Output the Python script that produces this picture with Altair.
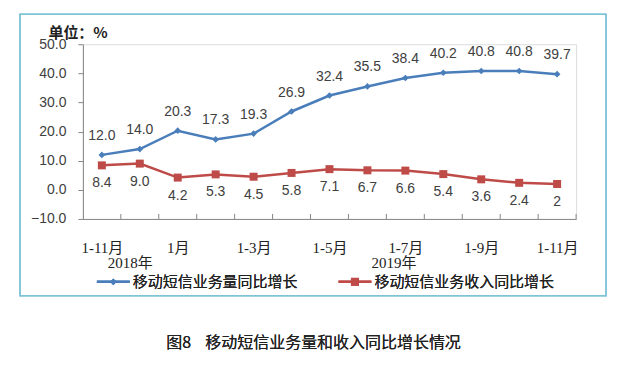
import altair as alt
import pandas as pd

# ---- data ----
tick_labels = ["1-11月", "1-12月", "1月", "1-2月", "1-3月", "1-4月", "1-5月",
               "1-6月", "1-7月", "1-8月", "1-9月", "1-10月", "1-11月"]
shown_idx = [0, 2, 4, 6, 8, 10, 12]
volume_growth = [12.0, 14.0, 20.3, 17.3, 19.3, 26.9, 32.4, 35.5, 38.4, 40.2, 40.8, 40.8, 39.7]
revenue_growth = [8.4, 9.0, 4.2, 5.3, 4.5, 5.8, 7.1, 6.7, 6.6, 5.4, 3.6, 2.4, 2.0]
revenue_labels = ["8.4", "9.0", "4.2", "5.3", "4.5", "5.8", "7.1", "6.7", "6.6", "5.4", "3.6", "2.4", "2"]
series_names = ["移动短信业务量同比增长", "移动短信业务收入同比增长"]
years = ["2018年", "2019年"]
year_pos = [0.75, 7.7]
caption = "图8\u00a0\u00a0\u00a0\u00a0移动短信业务量和收入同比增长情况"
unit_label = "单位：%"

BLUE = "#4A7EBB"
RED = "#BE4B48"
GRAY = "#868686"
TXT = "#404040"
NUM_FONT = "Liberation Sans"
SERIF = "Liberation Serif, Noto Sans CJK SC"
CJK = "Noto Sans CJK SC"

rows = []
for i in range(len(tick_labels)):
    rows.append({"idx": i, "series": series_names[0], "value": volume_growth[i],
                 "label": f"{volume_growth[i]:.1f}"})
    rows.append({"idx": i, "series": series_names[1], "value": revenue_growth[i],
                 "label": revenue_labels[i]})
df = pd.DataFrame(rows)

W, H = 494, 175

label_arr = "[" + ",".join(f"'{t}'" for t in tick_labels) + "]"

x_scale = alt.Scale(domain=[-0.5, len(tick_labels) - 0.5], nice=False, zero=False)
x_axis = alt.Axis(
    values=shown_idx,
    labelExpr=f"{label_arr}[datum.value]",
    ticks=False,
    grid=False,
    title=None,
    domainColor=GRAY,
    labelFont=SERIF,
    labelFontSize=15,
    labelColor="#222222",
    labelPadding=22,
    labelOverlap=False,
)


def xq(field):
    return alt.X(field, type="quantitative", scale=x_scale, axis=x_axis)


y_enc = alt.Y(
    "value:Q",
    scale=alt.Scale(domain=[-10, 50], nice=False, zero=False),
    axis=alt.Axis(
        values=list(range(-10, 51, 10)),
        format=".1f",
        grid=False,
        domainColor=GRAY,
        tickColor=GRAY,
        tickSize=5,
        labelPadding=12,
        labelFont=NUM_FONT,
        labelFontSize=14,
        labelColor=TXT,
        title=unit_label,
        titleAngle=0,
        titleX=-35,
        titleY=-12,
        titleAlign="left",
        titleBaseline="middle",
        titleFont=CJK,
        titleFontSize=15,
        titleFontWeight="bold",
        titleColor="#222222",
    ),
)
color_enc = alt.Color("series:N", scale=alt.Scale(domain=series_names, range=[BLUE, RED]), legend=None)

base = alt.Chart(df)

lines = base.mark_line(strokeWidth=2.5).encode(x=xq("idx"), y=y_enc, color=color_enc)
points = base.mark_point(filled=True, opacity=1).encode(
    x=xq("idx"), y=y_enc, color=color_enc,
    shape=alt.Shape("series:N", scale=alt.Scale(domain=series_names, range=["diamond", "square"]), legend=None),
    size=alt.Size("series:N", scale=alt.Scale(domain=series_names, range=[45, 64]), legend=None),
)
blue_labels = base.transform_filter(alt.datum.series == series_names[0]).mark_text(
    dy=-19, font=NUM_FONT, fontSize=14, color=TXT
).encode(x=xq("idx"), y=y_enc, text="label:N")
red_labels = base.transform_filter(alt.datum.series == series_names[1]).mark_text(
    dy=18, font=NUM_FONT, fontSize=14, color=TXT
).encode(x=xq("idx"), y=y_enc, text="label:N")

x_ticks = base.transform_filter(alt.datum.series == series_names[0]).transform_calculate(
    idx="datum.idx + 0.5"
).mark_rule(color=GRAY, strokeWidth=1).encode(
    x=xq("idx"),
    y=alt.value(H),
    y2=alt.value(H - 5),
)

year_df = pd.DataFrame({"year": years, "idx": year_pos})
year_text = alt.Chart(year_df).mark_text(
    font=SERIF, fontSize=15, color="#222222", baseline="middle"
).encode(x=xq("idx"), y=alt.value(219), text="year:N")

# legend (drawn)
leg_y = 238
leg = []
for (x0, x1, tx, col, shp, sz, name) in [
    (14, 47, 50, BLUE, "diamond", 45, series_names[0]),
    (256, 289, 292, RED, "square", 64, series_names[1]),
]:
    leg.append(alt.Chart(year_df).mark_rule(color=col, strokeWidth=2.5).encode(
        x=alt.value(x0), x2=alt.value(x1), y=alt.value(leg_y)))
    leg.append(alt.Chart(year_df).mark_point(filled=True, opacity=1, color=col, shape=shp, size=sz).encode(
        x=alt.value((x0 + x1) / 2), y=alt.value(leg_y)))
    leg.append(alt.Chart(year_df).mark_text(
        text=name, font=CJK, fontSize=15, color="#222222", align="left", baseline="middle").encode(
        x=alt.value(tx), y=alt.value(leg_y)))

frame = alt.Chart(year_df).mark_rect(fillOpacity=0, stroke="#7FC4D6", strokeWidth=1.5).encode(
    x=alt.value(-63), x2=alt.value(524), y=alt.value(-30), y2=alt.value(252))

cap = alt.Chart(year_df).mark_text(
    text=caption, font=CJK, fontSize=16, fontWeight="normal", color="#222222",
    align="center", baseline="middle"
).encode(x=alt.value(231), y=alt.value(299))

chart = alt.layer(
    frame, lines, points, blue_labels, red_labels, x_ticks, year_text, *leg, cap
).properties(
    width=W, height=H,
    autosize=alt.AutoSizeParams(type="none"),
    padding={"left": 75, "top": 36, "right": 50, "bottom": 140},
).configure_view(stroke=None).configure(background="white")

chart.save("out.html", embed_options={"renderer": "svg", "actions": False})
